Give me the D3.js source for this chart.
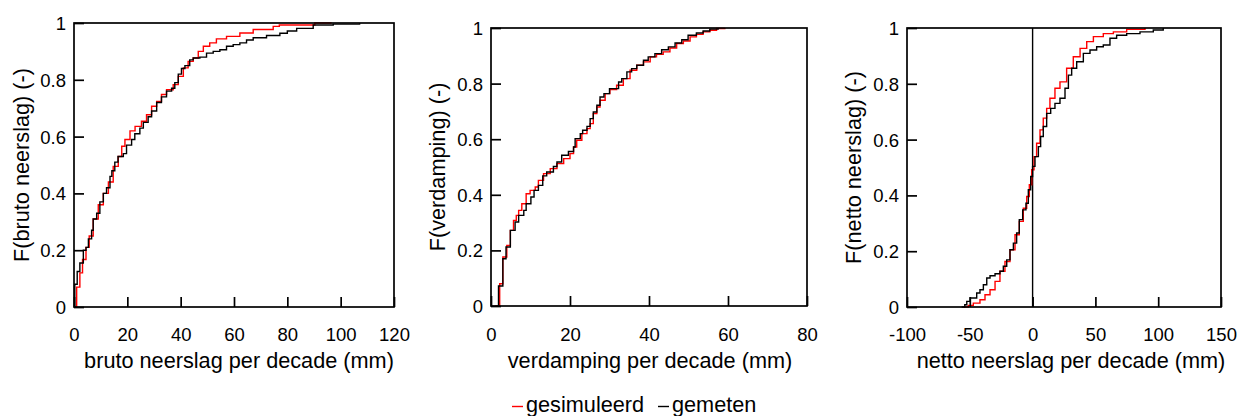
<!DOCTYPE html>
<html>
<head>
<meta charset="utf-8">
<script src="https://cdn.jsdelivr.net/npm/d3@7"></script>
<style>
  html, body { margin: 0; padding: 0; background: #fff; }
  svg { display: block; font-family: "Liberation Sans", Arial, sans-serif; }
</style>
</head>
<body>
<svg id="chart" width="1237" height="416"></svg>
<script>
// Empirical cumulative distributions per decade: [value (mm), F (-)]
const brutoGesimuleerd = [[0.3,0],[1.0,0.07],[2.2,0.12],[3.2,0.167],[4.5,0.21],[5.7,0.25],[7.2,0.31],[9.1,0.36],[11.0,0.40],[12.9,0.44],[14.7,0.495],[16.6,0.53],[17.9,0.566],[19.1,0.59],[21.0,0.62],[22.9,0.636],[25.3,0.654],[27.2,0.677],[29.1,0.707],[31.0,0.724],[32.8,0.748],[34.7,0.765],[37.2,0.783],[39.1,0.812],[41.0,0.842],[42.8,0.865],[44.7,0.877],[46.6,0.90],[48.5,0.918],[50.9,0.93],[53.4,0.944],[57.2,0.953],[62.2,0.965],[67.2,0.977],[74.7,0.988],[77.0,0.993],[90.3,1.0],[96.6,1.0]];
const brutoGemeten = [[0,0],[0.3,0.08],[1.2,0.125],[2.2,0.155],[3.5,0.2],[4.5,0.21],[5.4,0.24],[6.6,0.27],[7.2,0.31],[8.5,0.33],[9.7,0.37],[11.0,0.40],[12.2,0.42],[13.5,0.46],[14.2,0.48],[15.3,0.51],[16.5,0.53],[18.5,0.54],[19.7,0.57],[21.6,0.59],[22.8,0.61],[24.7,0.63],[26.0,0.65],[27.8,0.67],[29.1,0.69],[31.0,0.72],[32.8,0.74],[34.7,0.76],[36.6,0.77],[37.8,0.79],[39.1,0.82],[40.3,0.84],[41.6,0.85],[43.4,0.87],[44.7,0.877],[47.2,0.88],[49.7,0.894],[52.2,0.90],[54.7,0.906],[57.2,0.918],[59.7,0.924],[62.2,0.93],[64.7,0.94],[67.2,0.948],[72.2,0.956],[77.2,0.964],[80.0,0.972],[83.5,0.981],[89.7,0.993],[97.2,0.996],[107.1,1.0]];

const verdampingGesimuleerd = [[1.1,0],[2.2,0.08],[3.0,0.176],[4.0,0.218],[4.9,0.272],[5.7,0.308],[6.4,0.326],[7.0,0.344],[7.8,0.368],[8.9,0.404],[9.9,0.416],[11.2,0.428],[12.0,0.452],[13.3,0.476],[15.0,0.494],[16.7,0.512],[18.4,0.53],[20.0,0.548],[20.9,0.572],[21.7,0.596],[23.0,0.62],[24.3,0.638],[25.1,0.656],[25.9,0.692],[26.8,0.716],[27.6,0.74],[28.9,0.764],[30.1,0.779],[31.8,0.794],[33.5,0.818],[35.2,0.848],[36.9,0.866],[38.6,0.878],[40.3,0.896],[41.9,0.905],[43.6,0.914],[45.3,0.928],[47.0,0.944],[48.7,0.953],[50.4,0.968],[52.0,0.977],[53.7,0.986],[55.4,0.992],[57.1,0.998],[59.2,1.0]];
const verdampingGemeten = [[1.9,0],[1.9,0.072],[3.0,0.17],[3.8,0.212],[4.9,0.272],[6.1,0.302],[7.0,0.326],[8.3,0.344],[8.9,0.368],[10.1,0.392],[10.9,0.416],[12.0,0.434],[13.1,0.468],[14.1,0.482],[15.8,0.502],[16.7,0.518],[17.9,0.542],[19.6,0.556],[20.9,0.572],[21.3,0.602],[22.6,0.62],[23.2,0.632],[24.3,0.646],[25.1,0.674],[25.9,0.698],[26.8,0.722],[27.6,0.752],[28.6,0.764],[30.0,0.782],[32.3,0.806],[33.1,0.818],[34.4,0.842],[35.6,0.854],[36.9,0.866],[38.6,0.884],[39.8,0.896],[41.5,0.908],[43.2,0.922],[44.9,0.932],[46.6,0.946],[48.3,0.958],[49.9,0.974],[52.0,0.982],[53.7,0.989],[55.4,0.996],[57.5,1.0]];

const nettoGesimuleerd = [[-55.1,0],[-51.2,0.006],[-47.2,0.014],[-41.9,0.026],[-37.9,0.044],[-33.9,0.062],[-29.9,0.092],[-26,0.128],[-22,0.163],[-18,0.205],[-14,0.259],[-10.6,0.307],[-7.4,0.354],[-4.7,0.396],[-2.6,0.438],[-0.7,0.492],[1.1,0.539],[3.2,0.587],[5.9,0.635],[8.5,0.677],[11.2,0.712],[13.8,0.748],[17.8,0.784],[21.8,0.807],[27.1,0.856],[32.4,0.897],[37.8,0.927],[43.1,0.951],[48.4,0.969],[56.3,0.98],[64.3,0.986],[74.9,0.995],[89.5,1.0]];
const nettoGemeten = [[-56.5,0],[-54,0.008],[-52.4,0.02],[-49.8,0.032],[-44.5,0.05],[-41.9,0.062],[-39.2,0.08],[-36.5,0.104],[-33.9,0.112],[-29.9,0.119],[-26,0.128],[-23.3,0.146],[-20.6,0.169],[-18,0.205],[-15.3,0.229],[-12.7,0.265],[-10.6,0.313],[-7.9,0.348],[-5.3,0.372],[-3.4,0.42],[-1.5,0.468],[0,0.504],[1.9,0.539],[4.6,0.575],[6.4,0.611],[8.5,0.647],[11.2,0.694],[14.4,0.712],[17.8,0.73],[21.8,0.748],[25.8,0.784],[28.5,0.831],[31.1,0.856],[35.1,0.879],[40.4,0.909],[45.7,0.921],[51,0.933],[56.3,0.939],[61.6,0.963],[66.9,0.974],[74.9,0.98],[85.5,0.986],[96.1,0.993],[104,1.0]];

// Axis ticks and labels
const brutoTicks = [0, 20, 40, 60, 80, 100, 120];
const verdampingTicks = [0, 20, 40, 60, 80];
const nettoTicks = [-100, -50, 0, 50, 100, 150];
const fTicks = [0, 0.2, 0.4, 0.6, 0.8, 1];
const xTitles = ["bruto neerslag per decade (mm)", "verdamping per decade (mm)", "netto neerslag per decade (mm)"];
const yTitles = ["F(bruto neerslag) (-)", "F(verdamping) (-)", "F(netto neerslag) (-)"];
const seriesNames = ["gesimuleerd", "gemeten"];
const seriesColors = ["#ff0000", "#000000"];

const panels = [
  { x0: 74,  x1: 394,  y0: 307, y1: 23, ticks: brutoTicks, data: [brutoGesimuleerd, brutoGemeten],
    xTitle: xTitles[0], yTitle: yTitles[0], xTitleX: 239, yTitleX: 28.5, zeroLine: false },
  { x0: 491, x1: 807,  y0: 306, y1: 28, ticks: verdampingTicks, data: [verdampingGesimuleerd, verdampingGemeten],
    xTitle: xTitles[1], yTitle: yTitles[1], xTitleX: 650, yTitleX: 444.5, zeroLine: false },
  { x0: 907, x1: 1221, y0: 307, y1: 28, ticks: nettoTicks, data: [nettoGesimuleerd, nettoGemeten],
    xTitle: xTitles[2], yTitle: yTitles[2], xTitleX: 1071, yTitleX: 860.5, zeroLine: true }
];

const svg = d3.select("#chart");
svg.append("rect").attr("width", 1237).attr("height", 416).attr("fill", "#fff");

const tickFont = 18.5, titleFont = 21.7, tickLen = 10;
// plain hyphen for negative numbers
const intFormat = d => String(d);

panels.forEach(p => {
  const x = d3.scaleLinear().domain([p.ticks[0], p.ticks[p.ticks.length - 1]]).range([p.x0, p.x1]);
  const y = d3.scaleLinear().domain([0, 1]).range([p.y0, p.y1]);
  const g = svg.append("g");

  // step lines (empirical CDF)
  const line = d3.line().x(d => x(d[0])).y(d => y(d[1])).curve(d3.curveStepAfter);

  if (p.zeroLine) {
    g.append("line")
      .attr("x1", x(0)).attr("x2", x(0)).attr("y1", y(0)).attr("y2", y(1))
      .attr("stroke", "#000").attr("stroke-width", 1.4);
  }

  p.data.forEach((series, i) => {
    g.append("path").datum(series)
      .attr("d", line)
      .attr("fill", "none")
      .attr("stroke", seriesColors[i])
      .attr("stroke-width", 1.4)
      .attr("stroke-linejoin", "miter");
  });

  // frame
  g.append("rect")
    .attr("x", p.x0).attr("y", p.y1)
    .attr("width", p.x1 - p.x0).attr("height", p.y0 - p.y1)
    .attr("fill", "none").attr("stroke", "#000").attr("stroke-width", 1.7);

  // bottom axis: ticks pointing inward
  const xAxis = d3.axisBottom(x).tickValues(p.ticks).tickSize(-tickLen).tickFormat(intFormat);
  const gx = g.append("g").attr("transform", `translate(0,${p.y0})`).call(xAxis);
  gx.select(".domain").remove();
  gx.selectAll(".tick line").attr("stroke", "#000").attr("stroke-width", 1.7);
  gx.selectAll(".tick text")
    .attr("font-size", tickFont).attr("fill", "#000")
    .attr("font-family", "'Liberation Sans', Arial, sans-serif")
    .attr("dy", null)
    .attr("y", 341 - p.y0);

  // left axis: ticks pointing inward
  const yAxis = d3.axisLeft(y).tickValues(fTicks).tickSize(-tickLen)
    .tickFormat(d => d === 0 || d === 1 ? String(d) : d3.format(".1f")(d));
  const gy = g.append("g").attr("transform", `translate(${p.x0},0)`).call(yAxis);
  gy.select(".domain").remove();
  gy.selectAll(".tick line").attr("stroke", "#000").attr("stroke-width", 1.7);
  gy.selectAll(".tick text")
    .attr("font-size", tickFont).attr("fill", "#000")
    .attr("font-family", "'Liberation Sans', Arial, sans-serif")
    .attr("x", -8).attr("dy", "0.35em");

  // axis titles
  g.append("text")
    .attr("x", p.xTitleX).attr("y", 368)
    .attr("text-anchor", "middle").attr("font-size", titleFont).attr("fill", "#000")
    .text(p.xTitle);
  g.append("text")
    .attr("transform", `translate(${p.yTitleX},${(p.y0 + p.y1) / 2}) rotate(-90)`)
    .attr("text-anchor", "middle").attr("font-size", titleFont).attr("fill", "#000")
    .text(p.yTitle);
});

// legend
const legend = svg.append("g");
const legendItems = [{ x: 512, name: seriesNames[0], color: seriesColors[0] },
                     { x: 658, name: seriesNames[1], color: seriesColors[1] }];
legendItems.forEach(item => {
  legend.append("line")
    .attr("x1", item.x).attr("x2", item.x + 11).attr("y1", 406.5).attr("y2", 406.5)
    .attr("stroke", item.color).attr("stroke-width", 1.4);
  legend.append("text")
    .attr("x", item.x + 14).attr("y", 412)
    .attr("font-size", titleFont).attr("fill", "#000")
    .text(item.name);
});
</script>
</body>
</html>
